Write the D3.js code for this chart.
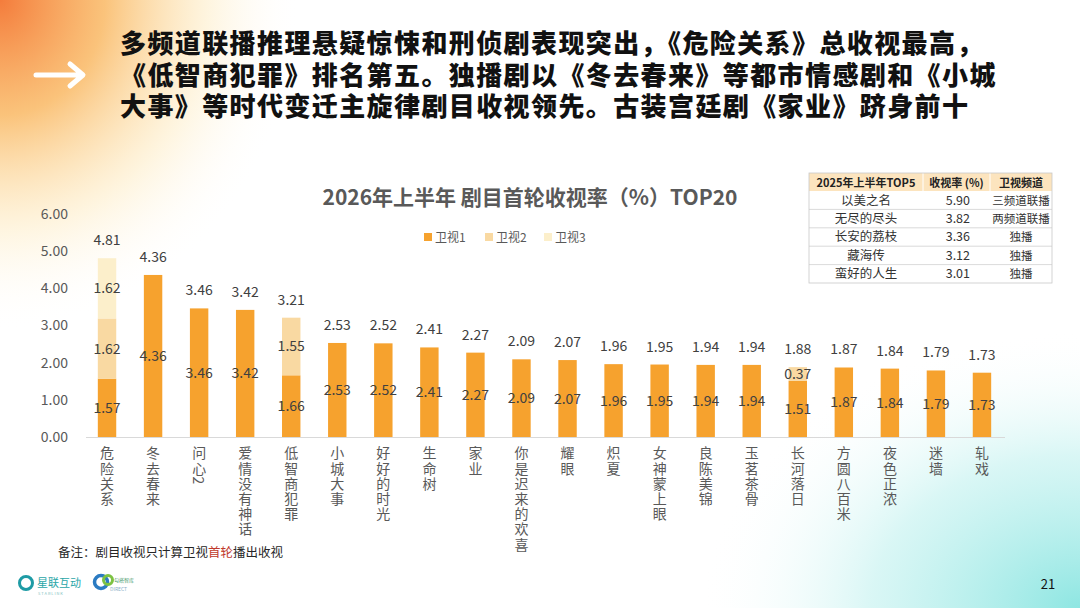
<!DOCTYPE html>
<html><head><meta charset="utf-8">
<script src="https://cdn.jsdelivr.net/npm/d3@7"></script>
<style>
html,body{margin:0;padding:0;background:#fff;}
svg{display:block;font-family:"Noto Sans CJK SC","Noto Sans",sans-serif;}
.hl{font-family:"Liberation Sans","Noto Sans CJK SC",sans-serif;font-size:26px;font-weight:900;color:#111;line-height:31.5px;letter-spacing:1.4px;white-space:nowrap;margin:0;}
</style></head>
<body><svg id="c" width="1080" height="608"></svg>
<script>
const categories = ["危险关系","冬去春来","问心2","爱情没有神话","低智商犯罪","小城大事","好好的时光","生命树","家业","你是迟来的欢喜","耀眼","炽夏","女神蒙上眼","良陈美锦","玉茗茶骨","长河落日","方圆八百米","夜色正浓","迷墙","轧戏"];
const series1 = [1.57,4.36,3.46,3.42,1.66,2.53,2.52,2.41,2.27,2.09,2.07,1.96,1.95,1.94,1.94,1.51,1.87,1.84,1.79,1.73];
const series2 = [1.62,0,0,0,1.55,0,0,0,0,0,0,0,0,0,0,0.37,0,0,0,0];
const series3 = [1.62,0,0,0,0,0,0,0,0,0,0,0,0,0,0,0,0,0,0,0];
const totals = [4.81,4.36,3.46,3.42,3.21,2.53,2.52,2.41,2.27,2.09,2.07,1.96,1.95,1.94,1.94,1.88,1.87,1.84,1.79,1.73];
const seriesNames = ["卫视1","卫视2","卫视3"];
const yTicks = [0,1,2,3,4,5,6];
const tableHeader = ["2025年上半年TOP5","收视率 (%)","卫视频道"];
const tableNames = ["以美之名","无尽的尽头","长安的荔枝","藏海传","蛮好的人生"];
const tableValues = ["5.90","3.82","3.36","3.12","3.01"];
const tableChannels = ["三频道联播","两频道联播","独播","独播","独播"];
const headline = ["多频道联播推理悬疑惊悚和刑侦剧表现突出，《危险关系》总收视最高，","《低智商犯罪》排名第五。独播剧以《冬去春来》等都市情感剧和《小城","大事》等时代变迁主旋律剧目收视领先。古装宫廷剧《家业》跻身前十"];

const svg = d3.select("#c");
const defs = svg.append("defs");
const g1 = defs.append("radialGradient").attr("id","gOr").attr("cx",0).attr("cy",0).attr("r",1);
g1.append("stop").attr("offset","0%").attr("stop-color","#F47C3C");
g1.append("stop").attr("offset","35%").attr("stop-color","#F9B45A").attr("stop-opacity",0.8);
g1.append("stop").attr("offset","70%").attr("stop-color","#FDE3A8").attr("stop-opacity",0.35);
g1.append("stop").attr("offset","100%").attr("stop-color","#ffffff").attr("stop-opacity",0);
const g2 = defs.append("radialGradient").attr("id","gCy").attr("cx",1).attr("cy",1).attr("r",1);
g2.append("stop").attr("offset","0%").attr("stop-color","#8EE6E2");
g2.append("stop").attr("offset","55%").attr("stop-color","#C9F3F1").attr("stop-opacity",0.7);
g2.append("stop").attr("offset","100%").attr("stop-color","#ffffff").attr("stop-opacity",0);

svg.append("rect").attr("width",1080).attr("height",608).attr("fill","#fff");
svg.append("rect").attr("x",0).attr("y",0).attr("width",300).attr("height",330).attr("fill","url(#gOr)");
svg.append("rect").attr("x",700).attr("y",330).attr("width",380).attr("height",278).attr("fill","url(#gCy)");

// arrow
svg.append("path").attr("d","M36 75 L82 75 M70 64 L83 75 L70 86").attr("stroke","#fff").attr("stroke-width",5)
  .attr("fill","none").attr("stroke-linecap","round").attr("stroke-linejoin","round");

// headline (one wrapped paragraph)
const fo = svg.append("foreignObject").attr("x",120).attr("y",29).attr("width",955).attr("height",100);
const div = fo.append("xhtml:div").attr("class","hl");
headline.forEach((line,i)=>{
  div.append("xhtml:span").text(line);
  if(i<headline.length-1) div.append("xhtml:br");
});

// chart
const x = d3.scaleBand().domain(categories).range([84,1005]).paddingInner(0.6).paddingOuter(0.3);
const y = d3.scaleLinear().domain([0,6]).range([437,214]);

svg.append("text").attr("x",530).attr("y",205).attr("text-anchor","middle")
  .attr("font-size",21).attr("font-weight",700).attr("fill","#595959")
  .text("2026年上半年 剧目首轮收视率（%）TOP20");

const colors = ["#F6A22E","#F9D9A2","#FCEFCB"];
const legX = [424,485,544];
const leg = svg.append("g").selectAll("g").data(seriesNames).join("g")
  .attr("transform",(d,i)=>`translate(${legX[i]},237)`);
leg.append("rect").attr("x",0).attr("y",-4).attr("width",8).attr("height",8).attr("fill",(d,i)=>colors[i]);
leg.append("text").attr("x",11).attr("y",4.5).attr("font-size",12).attr("fill","#595959").text(d=>d);

// y axis labels
const yAxis = d3.axisLeft(y).tickValues(yTicks).tickFormat(d3.format(".2f")).tickSize(0).tickPadding(0);
const ya = svg.append("g").attr("transform","translate(68,0)").call(yAxis);
ya.select(".domain").remove();
ya.selectAll("text").attr("font-size",14).attr("fill","#595959").attr("font-family","'Noto Sans CJK SC',sans-serif");

// stacked bars
const rows = categories.map((c,i)=>({cat:c, s1:series1[i], s2:series2[i], s3:series3[i]}));
const stack = d3.stack().keys(["s1","s2","s3"])(rows);
stack.forEach((layer,li)=>{
  svg.append("g").selectAll("rect").data(layer.filter(d=>d[1]-d[0]>0)).join("rect")
    .attr("x",d=>x(d.data.cat)).attr("width",x.bandwidth())
    .attr("y",d=>y(d[1])).attr("height",d=>y(d[0])-y(d[1]))
    .attr("fill",colors[li]);
});
// x axis line
svg.append("line").attr("x1",86).attr("x2",1005).attr("y1",437.5).attr("y2",437.5).attr("stroke","#D9D9D9").attr("stroke-width",1.2);

// segment labels
stack.forEach((layer,li)=>{
  svg.append("g").selectAll("text").data(layer.filter(d=>d[1]-d[0]>0)).join("text")
    .attr("x",d=>x(d.data.cat)+x.bandwidth()/2).attr("y",d=>y((d[0]+d[1])/2)+5)
    .attr("text-anchor","middle").attr("font-size",14).attr("fill","#404040")
    .text(d=>(d[1]-d[0]).toFixed(2));
});
// total labels
svg.append("g").selectAll("text").data(categories).join("text")
  .attr("x",d=>x(d)+x.bandwidth()/2).attr("y",(d,i)=>y(totals[i])-13)
  .attr("text-anchor","middle").attr("font-size",14).attr("fill","#404040")
  .text((d,i)=>totals[i].toFixed(2));

// vertical category labels
svg.append("g").selectAll("text").data(categories).join("text")
  .attr("x",d=>x(d)+x.bandwidth()/2).attr("y",446)
  .style("writing-mode","vertical-rl")
  .attr("font-size",14).attr("letter-spacing",1.2).attr("fill","#595959")
  .text(d=>d);

// table
const tx = [809,923,990,1052], ty0 = 173, hh = 18, rh = 18.4;
const tg = svg.append("g");
tg.append("rect").attr("x",tx[0]).attr("y",ty0).attr("width",tx[3]-tx[0]).attr("height",hh).attr("fill","#FCE4BE");
tg.append("rect").attr("x",tx[0]).attr("y",ty0+hh).attr("width",tx[3]-tx[0]).attr("height",rh*5).attr("fill","#fff").attr("fill-opacity",0.9);
tg.selectAll("text.h").data(tableHeader).join("text").attr("class","h")
  .attr("x",(d,i)=>(tx[i]+tx[i+1])/2).attr("y",ty0+13.5).attr("text-anchor","middle")
  .attr("font-size",11).attr("font-weight",700).attr("fill","#222").text(d=>d);
const cols = [tableNames,tableValues,tableChannels];
const cSizes = [12.5,12.5,11.5];
cols.forEach((col,ci)=>{
  tg.append("g").selectAll("text").data(col).join("text")
    .attr("x",(ci===1? 970 : (tx[ci]+tx[ci+1])/2)).attr("y",(d,i)=>ty0+hh+i*rh+13.5)
    .attr("text-anchor",ci===1?"end":"middle").attr("font-size",cSizes[ci]).attr("fill","#333").text(d=>d);
});
for(let i=1;i<5;i++){
  const yy = ty0+hh+i*rh;
  tg.append("line").attr("x1",tx[0]).attr("x2",tx[3]).attr("y1",yy).attr("y2",yy).attr("stroke","#D0D0D0").attr("stroke-width",0.8);
}
[tx[1],tx[2]].forEach(xx=>tg.append("line").attr("x1",xx).attr("x2",xx).attr("y1",ty0).attr("y2",ty0+hh).attr("stroke","#fff").attr("stroke-width",1));
tg.append("rect").attr("x",tx[0]).attr("y",ty0).attr("width",tx[3]-tx[0]).attr("height",hh+rh*5)
  .attr("fill","none").attr("stroke","#C8C8C8").attr("stroke-width",0.8);

// footnote
const fn = svg.append("text").attr("x",58).attr("y",557).attr("font-size",12.5).attr("fill","#262626");
fn.append("tspan").text("备注：剧目收视只计算卫视");
fn.append("tspan").attr("fill","#C0392B").text("首轮");
fn.append("tspan").text("播出收视");

// logos
svg.append("circle").attr("cx",26).attr("cy",583).attr("r",6.5).attr("fill","none").attr("stroke","#1E9BA5").attr("stroke-width",3);
svg.append("text").attr("x",37).attr("y",587).attr("font-size",11).attr("fill","#2AA6A8").text("星联互动");
svg.append("text").attr("x",38).attr("y",595).attr("font-size",4).attr("fill","#7FBFC2").text("S T A R L I N K");
svg.append("circle").attr("cx",101).attr("cy",582).attr("r",6.5).attr("fill","none").attr("stroke","#2B7BC2").attr("stroke-width",3.5);
svg.append("circle").attr("cx",108).attr("cy",580).attr("r",4.5).attr("fill","none").attr("stroke","#7CC242").attr("stroke-width",3);
svg.append("text").attr("x",114).attr("y",582).attr("font-size",5).attr("fill","#4A9A6A").text("勾搭智库");
svg.append("text").attr("x",110).attr("y",591).attr("font-size",5).attr("fill","#8AAFC8").text("DIRECT");

svg.append("text").attr("x",1048).attr("y",589).attr("text-anchor","middle").attr("font-size",13).attr("fill","#111").text("21");
</script></body></html>
